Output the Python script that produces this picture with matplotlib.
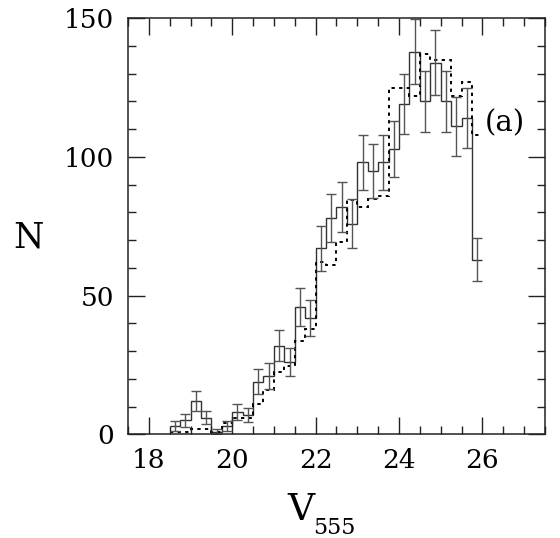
#!/usr/bin/env python3
"""Luminosity function histogram in V555 with Poisson error bars."""

import matplotlib

matplotlib.use("Agg")
import matplotlib.pyplot as plt
from matplotlib.ticker import MultipleLocator

# bin centres (0.25 mag bins)
v555 = [18.625, 18.875, 19.125, 19.375, 19.625, 19.875, 20.125, 20.375,
        20.625, 20.875, 21.125, 21.375, 21.625, 21.875, 22.125, 22.375,
        22.625, 22.875, 23.125, 23.375, 23.625, 23.875, 24.125, 24.375,
        24.625, 24.875, 25.125, 25.375, 25.625, 25.875]
bin_edges = [18.5, 18.75, 19.0, 19.25, 19.5, 19.75, 20.0, 20.25, 20.5, 20.75,
             21.0, 21.25, 21.5, 21.75, 22.0, 22.25, 22.5, 22.75, 23.0, 23.25,
             23.5, 23.75, 24.0, 24.25, 24.5, 24.75, 25.0, 25.25, 25.5, 25.75,
             26.0]

# observed counts (solid) and their errors
counts = [3, 5, 12, 6, 1, 3, 8, 7, 19, 21, 32, 26, 46, 42, 67, 78, 82, 76,
          98, 95, 98, 103, 119, 138, 120, 134, 120, 111, 114, 63]
count_err = [1.7, 2.2, 3.5, 2.4, 1.0, 1.7, 2.8, 2.6, 4.4, 4.6, 5.7, 5.1,
             6.8, 6.5, 8.2, 8.8, 9.1, 8.7, 9.9, 9.7, 9.9, 10.1, 10.9, 11.7,
             11.0, 11.6, 11.0, 10.5, 10.7, 7.9]

# comparison histogram (dotted)
counts_cmp = [1, 1, 2, 2, 1, 4, 6, 6, 11, 16, 22.5, 24.5, 33.5, 38, 62, 61,
              69.5, 84.5, 82, 85, 86, 125, 125, 122, 137, 135, 135, 122,
              127, 108]

SERIF = ["DejaVu Serif"]
plt.rcParams["font.family"] = SERIF

fig = plt.figure(figsize=(5.6, 5.38), dpi=100)
ax = fig.add_axes([0.2286, 0.1928, 0.7444, 0.7732])

ax.stairs(counts, bin_edges, baseline=None, color="#333333", linewidth=1.0)
ax.errorbar(v555, counts, yerr=count_err, fmt="none", ecolor="#555555",
            elinewidth=1.0, capsize=3.7, capthick=1.0)
ax.stairs(counts_cmp, bin_edges, baseline=None, color="black",
          linewidth=1.4, linestyle=(0, (1.7, 2.2)))

ax.set_xlim(17.5, 27.5)
ax.set_ylim(0, 150)
ax.xaxis.set_major_locator(MultipleLocator(2))
ax.xaxis.set_minor_locator(MultipleLocator(0.5))
ax.yaxis.set_major_locator(MultipleLocator(50))
ax.yaxis.set_minor_locator(MultipleLocator(10))
ax.tick_params(which="both", direction="in", top=True, right=True,
               width=1.0, color="#222222")
ax.tick_params(which="major", length=12, labelsize=19, pad=10)
ax.tick_params(which="minor", length=6)
for spine in ax.spines.values():
    spine.set_linewidth(1.1)
    spine.set_color("#222222")

ax.text(26.05, 112, "(a)", fontsize=21, va="center", ha="left")

fig.text(28 / 560, 1 - 238 / 538, "N", fontsize=25, ha="center",
         va="center")
# x label: V with a lowered subscript
fig.text(301 / 560, 1 - 520 / 538, "V", fontsize=27, ha="center",
         va="baseline")
fig.text(313 / 560, 1 - 534 / 538, "555", fontsize=16, ha="left",
         va="baseline")

fig.savefig("out.png", dpi=100)
plt.close(fig)
